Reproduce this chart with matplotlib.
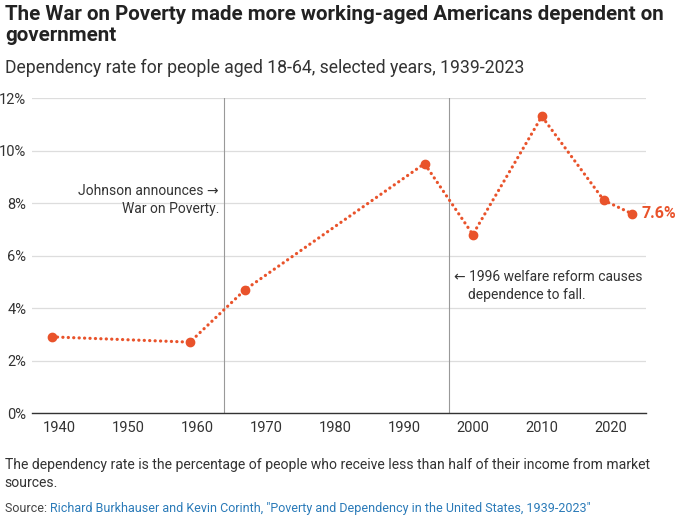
import matplotlib.pyplot as plt
from matplotlib.ticker import FuncFormatter

plt.rcParams["font.family"] = ["Roboto", "DejaVu Sans"]

years = [1939, 1959, 1967, 1993, 2000, 2010, 2019, 2023]
rate = [2.9, 2.7, 4.7, 9.5, 6.8, 11.3, 8.1, 7.6]
xticks = [1940, 1950, 1960, 1970, 1980, 1990, 2000, 2010, 2020]
yticks = [0, 2, 4, 6, 8, 10, 12]
events = [1964, 1996.5]

orange = "#E9532B"

fig = plt.figure(figsize=(6.8, 5.18), dpi=100)
ax = fig.add_axes([0.047, 0.2027, 0.903, 0.6081])

ax.set_xlim(1936.1, 2025.1)
ax.set_ylim(0, 12)
ax.set_yticks(yticks)
ax.set_xticks(xticks)
ax.yaxis.set_major_formatter(FuncFormatter(lambda v, p: f"{v:.0f}%"))
ax.grid(axis="y", color="#dddddd", linewidth=0.9)
ax.set_axisbelow(True)
for s in ["top", "right", "left"]:
    ax.spines[s].set_visible(False)
ax.spines["bottom"].set_color("#333333")
ax.spines["bottom"].set_linewidth(1.0)
ax.tick_params(axis="both", length=0, labelsize=10.5, colors="#333333")
ax.tick_params(axis="y", pad=4)
ax.tick_params(axis="x", pad=6)

for e in events:
    ax.axvline(e, color="#999999", linewidth=0.8, zorder=1)

# round-capped near-zero dashes -> dots
ax.plot(years, rate, linestyle=(0, (0.05, 1.65)), dash_capstyle="round",
        linewidth=2.3, color=orange, zorder=3)
ax.plot(years, rate, "o", markersize=6, color=orange, zorder=4)

ax.text(years[-1] + 1.4, rate[-1], f"{rate[-1]}%", color=orange,
        fontsize=11.5, fontweight="bold", va="center", ha="left")

ax.text(1963.2, 8.1, "Johnson announces \u2192\nWar on Poverty.",
        ha="right", va="center", fontsize=10, color="#333333", linespacing=1.35)
ax.text(1997.2, 4.85, "\u2190 1996 welfare reform causes\n    dependence to fall.",
        ha="left", va="center", fontsize=10, color="#333333", linespacing=1.35)

fig.text(0.007, 0.99, "The War on Poverty made more working-aged Americans dependent on\ngovernment",
         fontsize=14.8, fontweight="bold", va="top", ha="left", color="#222222",
         linespacing=1.15)
fig.text(0.007, 0.868, "Dependency rate for people aged 18-64, selected years, 1939-2023",
         fontsize=12.7, va="center", ha="left", color="#333333")
fig.text(0.007, 0.085, "The dependency rate is the percentage of people who receive less than half of their income from market\nsources.",
         fontsize=10.05, va="center", ha="left", color="#333333", linespacing=1.35)
src = fig.text(0.007, 0.018, "Source: ", fontsize=9, va="center", ha="left", color="#444444")
fig.canvas.draw()
bb = src.get_window_extent().transformed(fig.transFigure.inverted())
fig.text(bb.x1, 0.018, "Richard Burkhauser and Kevin Corinth, \"Poverty and Dependency in the United States, 1939-2023\"",
         fontsize=9, va="center", ha="left", color="#2a7ab8")

fig.savefig("out.png", dpi=100)
